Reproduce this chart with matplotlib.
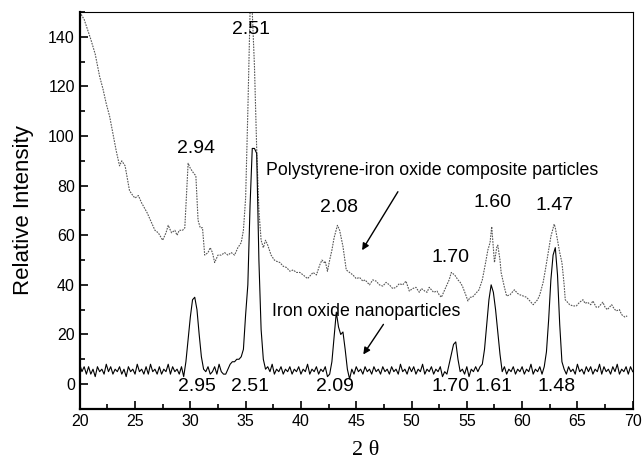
import matplotlib
matplotlib.use("Agg")
import matplotlib.pyplot as plt
from matplotlib.ticker import MultipleLocator
import numpy as np

plt.rcParams['font.family'] = ['Liberation Sans', 'DejaVu Sans']

# --- composite particles (dotted trace) ---
comp_2theta = [
    20.0, 20.4, 20.7, 21.0, 21.4, 21.8, 22.1, 22.4, 22.7, 23.0, 23.3, 23.6, 23.8, 24.1,
    24.3, 24.5, 24.8, 25.0, 25.3, 25.6, 26.1, 26.4, 26.8, 27.1, 27.5, 27.8, 28.0, 28.3,
    28.6, 28.8, 29.0, 29.3, 29.5, 29.7, 29.8, 30.0, 30.3, 30.5, 30.7, 30.9, 31.1, 31.3,
    31.6, 31.8, 32.0, 32.2, 32.5, 32.8, 33.1, 33.4, 33.7, 34.0, 34.3, 34.6, 34.8, 35.0,
    35.2, 35.4, 35.6, 35.8, 36.0, 36.2, 36.4, 36.6, 36.8, 37.0, 37.3, 37.6, 37.8, 38.1,
    38.4, 38.7, 39.0, 39.3, 39.6, 39.9, 40.2, 40.6, 40.9, 41.1, 41.4, 41.7, 41.9, 42.1,
    42.2, 42.4, 42.6, 42.8, 43.0, 43.3, 43.5, 43.8, 44.1, 44.4, 44.7, 45.0, 45.3, 45.6,
    45.8, 46.0, 46.2, 46.5, 46.8, 47.1, 47.4, 47.7, 48.0, 48.3, 48.6, 48.9, 49.2, 49.5,
    49.8, 50.1, 50.4, 50.7, 50.9, 51.2, 51.4, 51.6, 51.8, 52.0, 52.3, 52.5, 52.7, 53.0,
    53.2, 53.4, 53.6, 53.9, 54.2, 54.4, 54.6, 54.9, 55.1, 55.3, 55.5, 55.8, 56.1, 56.4,
    56.7, 56.9, 57.1, 57.25, 57.4, 57.5, 57.7, 57.8, 58.0, 58.1, 58.4, 58.6, 58.9, 59.1,
    59.3, 59.6, 59.8, 60.1, 60.4, 60.7, 61.0, 61.2, 61.4, 61.6, 61.9, 62.1, 62.3, 62.6,
    62.9, 63.0, 63.2, 63.4, 63.6, 63.8, 63.9, 64.1, 64.3, 64.6, 64.9, 65.2, 65.5, 65.7,
    65.9, 66.2, 66.4, 66.7, 66.9, 67.1, 67.3, 67.5, 67.7, 67.9, 68.1, 68.3, 68.5, 68.8,
    69.0, 69.3, 69.5,
]
comp_intensity = [
    150, 147, 143, 139, 133, 124, 119, 113, 108, 101, 94, 88, 90, 88,
    83, 78, 76, 75, 76, 73, 69, 66, 62, 61, 58, 61, 64, 61,
    62, 60, 62, 62, 63, 80, 89, 87, 85, 84, 66, 63, 63, 52,
    53, 55, 53, 49, 52, 52, 53, 52, 53, 52, 55, 57, 62, 75,
    110, 150, 150, 128, 95, 70, 58, 55, 58, 56, 52, 50, 49.5, 49,
    47.5, 47, 45.5, 46, 45, 45, 44, 42.5, 44, 45, 44, 48, 50, 49,
    49.5, 45.5, 50, 54, 59, 64, 62, 55.5, 46, 45, 44, 42.5, 43, 41.5,
    42, 41, 40, 42, 41.5, 40, 39.5, 41, 40, 38.5, 39, 40.5, 40, 41.5,
    37.5, 38.5, 39, 37, 38.5, 37.5, 37, 39, 38, 37, 37.5, 36, 35, 38,
    40, 42, 45, 44, 42, 41, 39.5, 36, 33.5, 35, 35, 36.5, 38, 42,
    49, 54, 57, 63.5, 55, 49, 55, 56, 50, 45, 39, 35.5, 36, 37,
    38, 36.5, 36, 35.5, 35, 33.5, 32, 33, 34, 36, 41, 46, 51.5, 59.5,
    64.5, 63, 58, 53, 49, 40, 34, 33, 32, 31.5, 31.5, 33, 34, 32.5,
    33, 32, 33.5, 31, 31, 32, 33, 31, 30, 31, 32, 30.5, 29.5, 30,
    28, 27, 27.5,
]

# --- iron oxide nanoparticles (solid trace), 0.2 deg scan step from 20 to 70 ---
iron_2theta = np.linspace(20, 70, 251)
iron_intensity = [
    8, 5, 7, 4, 7, 4, 6, 3, 7, 5,          # 20.0
    6, 4, 8, 5, 7, 4, 6, 5, 7, 4,          # 22.0
    6, 3, 7, 5, 6, 4, 8, 5, 6, 4,          # 24.0
    7, 4, 8, 5, 6, 4, 7, 4, 6, 5,          # 26.0
    8, 4, 7, 5, 6, 4, 7, 3, 9, 18,         # 28.0
    27, 34, 35, 30, 20, 11, 6, 5, 7, 4,    # 30.0
    5, 7, 4, 8, 5, 4, 4, 6, 8, 9,          # 32.0
    9, 10, 10, 11, 14, 28, 40, 72, 95, 95, # 34.0
    93, 50, 22, 10, 6, 7, 5, 8, 4, 6,      # 36.0
    5, 7, 4, 6, 5, 7, 4, 6, 5, 7,          # 38.0
    4, 6, 5, 8, 4, 6, 5, 7, 4, 6,          # 40.0
    5, 7, 3, 4, 9, 19, 29, 23, 20, 21,     # 42.0
    14, 6, 2, 6, 4, 7, 5, 6, 4, 7,         # 44.0
    5, 6, 4, 7, 5, 6, 4, 7, 5, 6,          # 46.0
    4, 7, 5, 6, 4, 8, 5, 6, 4, 7,          # 48.0
    5, 7, 4, 6, 5, 8, 4, 6, 5, 7,          # 50.0
    4, 6, 5, 7, 3, 5, 4, 8, 12, 16,        # 52.0
    17, 10, 5, 6, 4, 7, 3, 6, 5, 7,        # 54.0
    5, 7, 8, 14, 24, 34, 40, 37, 30, 21,   # 56.0
    12, 5, 7, 4, 6, 5, 7, 4, 6, 5,         # 58.0
    7, 4, 6, 5, 8, 4, 6, 5, 7, 4,          # 60.0
    7, 13, 26, 42, 52, 55, 44, 24, 9, 6,   # 62.0
    4, 7, 5, 6, 4, 8, 5, 6, 4, 7,          # 64.0
    5, 7, 4, 6, 5, 8, 4, 7, 5, 6,          # 66.0
    4, 7, 5, 8, 4, 6, 5, 7, 4, 7,          # 68.0
    5,                                     # 70.0
]

# d-spacing labels: (text, x, y)
upper_labels = [("2.51", 35.5, 143), ("2.94", 30.5, 95), ("2.08", 43.4, 71),
                ("1.70", 53.5, 51), ("1.60", 57.3, 73), ("1.47", 62.9, 72)]
lower_labels = [("2.95", 30.6, -1), ("2.51", 35.4, -1), ("2.09", 43.1, -1),
                ("1.70", 53.5, -1), ("1.61", 57.4, -1), ("1.48", 63.1, -1)]

fig = plt.figure(figsize=(6.43, 4.62), dpi=100)
ax = fig.add_axes([0.124, 0.115, 0.86, 0.859])

ax.plot(comp_2theta, comp_intensity, color="#555555", lw=0.8, ls=(0, (1.5, 1)))
ax.plot(iron_2theta, iron_intensity, color="black", lw=0.8)

for txt, x, y in upper_labels + lower_labels:
    ax.text(x, y, txt, ha="center", va="center", fontsize=14)

ax.text(36.8, 86, "Polystyrene-iron oxide composite particles",
        ha="left", va="center", fontsize=12.8)
ax.annotate("", xy=(45.4, 53), xytext=(48.9, 78.5),
            arrowprops=dict(arrowstyle="-|>", color="black", lw=1.0,
                            mutation_scale=10))
ax.text(37.4, 29.3, "Iron oxide nanoparticles",
        ha="left", va="center", fontsize=12.8)
ax.annotate("", xy=(45.5, 11), xytext=(47.6, 25),
            arrowprops=dict(arrowstyle="-|>", color="black", lw=1.0,
                            mutation_scale=10))

ax.set_xlim(20, 70)
ax.set_ylim(-10, 150)
ax.set_yticks(range(0, 141, 20))
ax.xaxis.set_major_locator(MultipleLocator(5))
ax.xaxis.set_minor_locator(MultipleLocator(2.5))
ax.yaxis.set_minor_locator(MultipleLocator(10))
ax.tick_params(which="both", direction="in", labelsize=11.5, width=1.2)
ax.tick_params(which="major", length=6)
ax.tick_params(which="minor", length=3.5)

for side in ("left", "bottom"):
    ax.spines[side].set_linewidth(1.6)
for side in ("top", "right"):
    ax.spines[side].set_linewidth(0.8)

ax.set_ylabel("Relative Intensity", fontsize=16, labelpad=10)
ax.text(0.517, -0.105, "2 θ", transform=ax.transAxes, ha="center", va="center",
        fontsize=16, family="Liberation Serif")

fig.savefig("out.png", dpi=100)
